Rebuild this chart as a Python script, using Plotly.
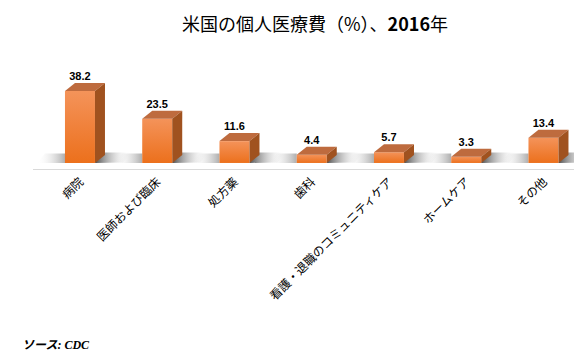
import plotly.graph_objects as go

categories = ["病院", "医師および臨床", "処方薬", "歯科", "看護・退職のコミュニティケア", "ホームケア", "その他"]
values = [38.2, 23.5, 11.6, 4.4, 5.7, 3.3, 13.4]

W, H = 582, 361
ml, mr, mt, mb = 25, 15, 50, 200
plot_w = W - ml - mr
plot_h = H - mt - mb
x0 = -0.608
xr = [x0, x0 + plot_w / 77.25]
yr = [-3.2, 55.7]
px_x = plot_w / (xr[1] - xr[0])
px_y = plot_h / (yr[1] - yr[0])
dx = 10 / px_x
dy = 8 / px_y
bw = 30 / px_x

fig = go.Figure()

# floor shadows
for i, v in enumerate(values):
    xl, xrr = i - bw / 2, i + bw / 2
    fig.add_trace(go.Scatter(
        x=[xrr, xrr + 28 / px_x, xrr + 36 / px_x, xrr + 5 / px_x, xrr],
        y=[0, 0.3, 5.5, 5.5, 0], fill="toself", mode="none",
        fillgradient=dict(type="horizontal", colorscale=[[0, "rgba(60,60,60,0.9)"], [1, "rgba(255,255,255,0)"]]),
        hoverinfo="skip", showlegend=False))
    fig.add_trace(go.Scatter(
        x=[xl - 28 / px_x, xl, xl, xl - 20 / px_x, xl - 28 / px_x],
        y=[0, 0, 5.0, 5.0, 0], fill="toself", mode="none",
        fillgradient=dict(type="horizontal", colorscale=[[0, "rgba(255,255,255,0)"], [1, "rgba(120,120,120,0.6)"]]),
        hoverinfo="skip", showlegend=False))

# front faces
for i, v in enumerate(values):
    xl, xrr = i - bw / 2, i + bw / 2
    fig.add_trace(go.Scatter(
        x=[xl, xrr, xrr, xl, xl], y=[0, 0, v, v, 0], fill="toself", mode="none",
        fillgradient=dict(type="vertical", colorscale=[[0, "#EC701C"], [1, "#F4935A"]]),
        hoverinfo="skip", showlegend=False))
    # top face
    fig.add_trace(go.Scatter(
        x=[xl, xrr, xrr + dx, xl + dx, xl], y=[v, v, v + dy, v + dy, v],
        fill="toself", mode="none", fillcolor="#BE6B3E",
        hoverinfo="skip", showlegend=False))
    # side face
    fig.add_trace(go.Scatter(
        x=[xrr, xrr + dx, xrr + dx, xrr, xrr], y=[0, dy, v + dy, v, 0],
        fill="toself", mode="none", fillcolor="#A0521F",
        hoverinfo="skip", showlegend=False))

# value labels
fig.add_trace(go.Scatter(
    x=list(range(len(values))), y=[v + dy for v in values], mode="text",
    text=[f"{v:.1f}" for v in values], textposition="top center",
    textfont=dict(family="Liberation Sans, Arial", size=11, color="#000000", weight="bold"),
    hoverinfo="skip", showlegend=False))

fig.update_layout(
    width=W, height=H,
    margin=dict(l=ml, r=mr, t=mt, b=mb, autoexpand=False),
    paper_bgcolor="white", plot_bgcolor="white",
    title=dict(text="米国の個人医療費（%）、<b>2016</b>年", x=307 / W, xanchor="center",
               y=1 - 17 / H, yanchor="middle", yref="container",
               font=dict(family="Noto Sans CJK JP", size=18, color="#000000")),
    xaxis=dict(range=xr, tickvals=list(range(len(categories))), ticktext=categories,
               tickangle=-45, showgrid=False, zeroline=False, showline=True,
               linecolor="#D9D9D9", linewidth=1, ticks="", fixedrange=True, automargin=False,
               tickfont=dict(family="Noto Sans CJK JP", size=12, color="#000000")),
    yaxis=dict(range=yr, visible=False, showgrid=False, zeroline=False, automargin=False),
    annotations=[dict(text="<b><i>ソース: CDC</i></b>", xref="paper", yref="paper",
                      x=(12 - ml) / plot_w, y=-(337 - (mt + plot_h)) / plot_h,
                      xanchor="left", yanchor="middle", showarrow=False,
                      font=dict(family="Liberation Serif, Noto Sans CJK JP", size=12, color="#000000"))],
)

fig.write_html("out.html")
